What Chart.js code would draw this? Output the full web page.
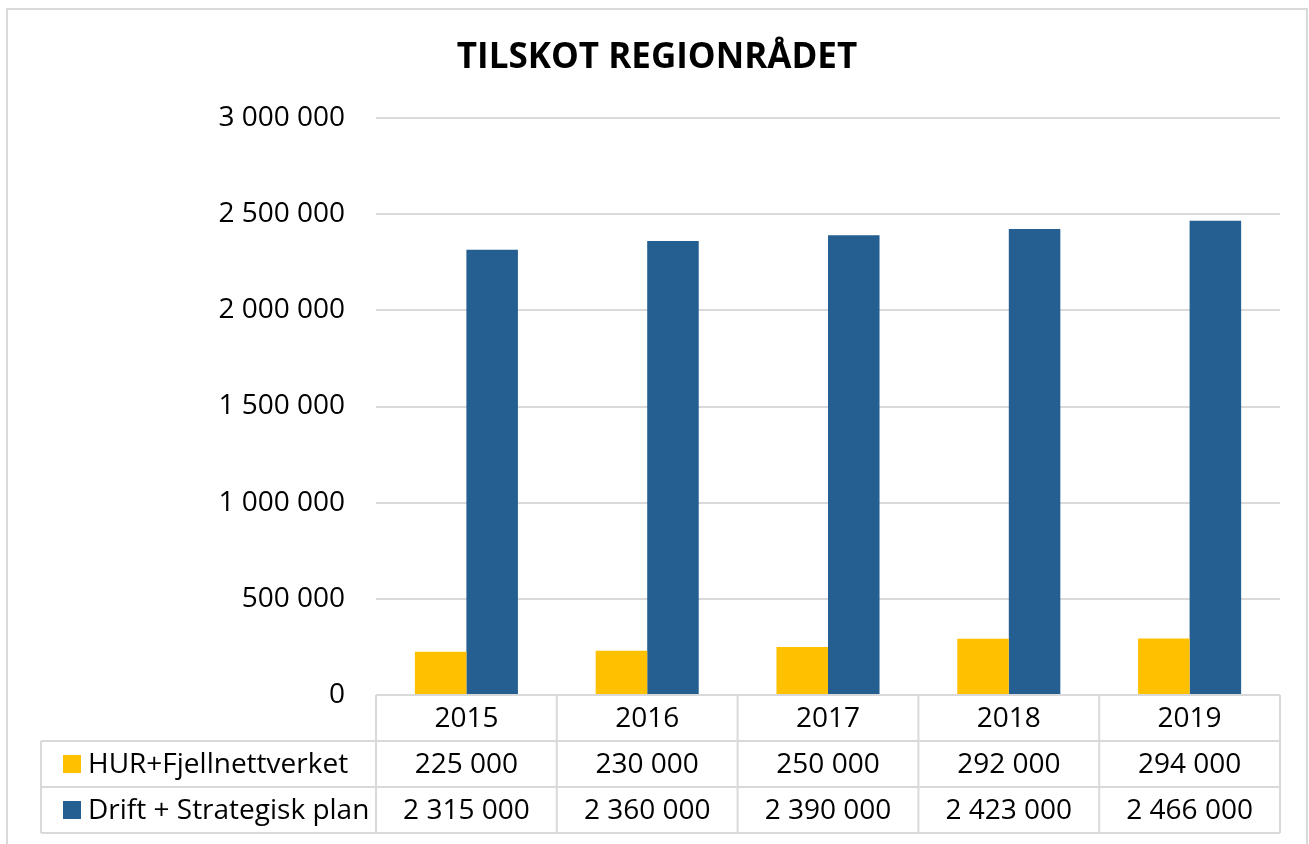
<!DOCTYPE html>
<html>
<head>
<meta charset="utf-8">
<script src="https://cdn.jsdelivr.net/npm/chart.js@4/dist/chart.umd.min.js"></script>
<style>
  html, body { margin: 0; padding: 0; background: #ffffff; }
  #wrap { width: 1309px; height: 844px; }
</style>
</head>
<body>
<div id="wrap"><canvas id="c" width="1309" height="844"></canvas></div>
<script>
const title = 'TILSKOT REGIONRÅDET';
const categories = ['2015', '2016', '2017', '2018', '2019'];
const seriesNames = ['HUR+Fjellnettverket', 'Drift + Strategisk plan'];
const hurValues = [225000, 230000, 250000, 292000, 294000];
const driftValues = [2315000, 2360000, 2390000, 2423000, 2466000];
const yTicks = [0, 500000, 1000000, 1500000, 2000000, 2500000, 3000000];
const seriesColors = ['#FFC000', '#255E91'];

const FONT = '"Open Sans", "Liberation Sans", sans-serif';
const fmt = v => String(v).replace(/\B(?=(\d{3})+(?!\d))/g, ' ');

const tablePlugin = {
  id: 'dataTable',
  afterDraw(chart) {
    const ctx = chart.ctx;
    const x = chart.scales.x;
    const area = chart.chartArea;
    const n = categories.length;
    const half = (x.right - x.left) / n / 2;
    const rowH = 46;
    const top = area.bottom;
    const legendLeft = 41;
    ctx.save();
    ctx.strokeStyle = '#d9d9d9';
    ctx.lineWidth = 2;
    ctx.beginPath();
    ctx.moveTo(x.left, top); ctx.lineTo(x.right, top);
    for (let r = 1; r <= 3; r++) {
      ctx.moveTo(legendLeft, top + r * rowH); ctx.lineTo(x.right, top + r * rowH);
    }
    for (let i = 0; i < n; i++) {
      const bx = x.getPixelForValue(i) - half;
      ctx.moveTo(bx, top); ctx.lineTo(bx, top + 3 * rowH);
    }
    ctx.moveTo(x.right, top); ctx.lineTo(x.right, top + 3 * rowH);
    ctx.moveTo(legendLeft, top + rowH); ctx.lineTo(legendLeft, top + 3 * rowH);
    ctx.stroke();

    ctx.fillStyle = '#000';
    ctx.font = '28px ' + FONT;
    ctx.textAlign = 'center';
    ctx.textBaseline = 'middle';
    const rows = [hurValues, driftValues];
    for (let i = 0; i < n; i++) {
      const cx = x.getPixelForValue(i);
      ctx.fillText(categories[i], cx, top + rowH / 2 + 1);
      rows.forEach((vals, r) => {
        ctx.fillText(fmt(vals[i]), cx, top + rowH * (r + 1) + rowH / 2 + 1);
      });
    }
    ctx.textAlign = 'left';
    seriesNames.forEach((name, r) => {
      const cy = top + rowH * (r + 1) + rowH / 2;
      ctx.fillStyle = seriesColors[r];
      ctx.fillRect(63, cy - 9, 18, 18);
      ctx.fillStyle = '#000';
      ctx.fillText(name, 88, cy + 1);
    });
    ctx.strokeStyle = '#d9d9d9';
    ctx.lineWidth = 2;
    ctx.strokeRect(7, 9, 1300, 860);
    ctx.restore();
  }
};

new Chart(document.getElementById('c'), {
  type: 'bar',
  data: {
    labels: categories,
    datasets: [
      { label: seriesNames[0], data: hurValues, backgroundColor: seriesColors[0] },
      { label: seriesNames[1], data: driftValues, backgroundColor: seriesColors[1] }
    ]
  },
  options: {
    responsive: false,
    animation: false,
    devicePixelRatio: 1,
    layout: { padding: { left: 5, right: 0, top: 0, bottom: 0 } },
    datasets: { bar: { categoryPercentage: 0.57, barPercentage: 1.0 } },
    plugins: {
      legend: { display: false },
      tooltip: { enabled: false },
      title: {
        display: true,
        text: title,
        color: '#000',
        font: { family: FONT, size: 35, weight: 'bold' },
        padding: { top: 37, bottom: 39 }
      }
    },
    scales: {
      x: {
        grid: { display: false },
        border: { display: false },
        ticks: { display: false },
        afterFit(s) { s.height = 149; }
      },
      y: {
        min: 0,
        max: 3000000,
        afterBuildTicks(s) { s.ticks = yTicks.map(v => ({ value: v })); },
        grid: { color: '#d9d9d9', lineWidth: 2, drawTicks: false },
        border: { display: false },
        ticks: {
          color: '#000',
          padding: 31,
          font: { family: FONT, size: 28 },
          callback: v => fmt(v)
        },
        afterFit(s) { s.width = 371; }
      },
      yRight: {
        type: 'linear',
        position: 'right',
        display: true,
        grid: { display: false },
        border: { display: false },
        ticks: { display: false },
        afterFit(s) { s.width = 29; }
      }
    }
  },
  plugins: [tablePlugin]
});
</script>
</body>
</html>
